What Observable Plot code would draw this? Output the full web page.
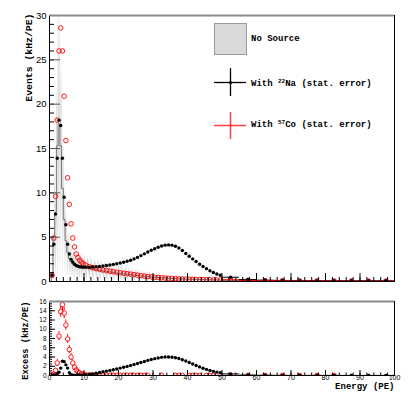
<!DOCTYPE html>
<html>
<head>
<meta charset="utf-8">
<script src="https://cdn.jsdelivr.net/npm/d3@7"></script>
<script src="https://cdn.jsdelivr.net/npm/@observablehq/plot@0.6"></script>
<style>
  body { margin: 0; background: #fff; }
  #root { position: relative; width: 415px; height: 395px; background: #fff; overflow: hidden; }
  #root svg { position: absolute; left: 0; }
  .leg { position: absolute; font-family: "Liberation Mono", monospace; font-weight: bold; font-size: 9px; line-height: 10px; white-space: nowrap; color: #000; }
  .leg sup { font-size: 6px; vertical-align: 3px; line-height: 0; }
</style>
</head>
<body>
<div id="root">
  <div style="position:absolute;left:214px;top:23px;width:31px;height:30px;background:#d9d9d9;border:1px solid #9a9a9a;"></div>
  <div class="leg" style="left:251px;top:34px;">No Source</div>
  <svg style="left:214px;top:68px;" width="33" height="28"><line x1="0" y1="14.5" x2="32" y2="14.5" stroke="#000" stroke-width="1.3"/><line x1="16.5" y1="0" x2="16.5" y2="28" stroke="#000" stroke-width="1.3"/><circle cx="16.5" cy="14.5" r="1.6" fill="#000"/></svg>
  <div class="leg" style="left:251px;top:79px;">With <sup>22</sup>Na (stat. error)</div>
  <svg style="left:214px;top:112px;" width="33" height="27"><line x1="0" y1="13.5" x2="32" y2="13.5" stroke="#ff4040" stroke-width="1.5"/><line x1="16.5" y1="0" x2="16.5" y2="27" stroke="#ff4040" stroke-width="1.5"/><circle cx="16.5" cy="13.5" r="1.4" fill="#ff4040"/></svg>
  <div class="leg" style="left:251px;top:120px;">With <sup>57</sup>Co (stat. error)</div>
</div>
<script>
// ---- data ----
const energy = [0.75,1.25,1.75,2.25,2.75,3.25,3.75,4.25,4.75,5.25,5.75,6.25,6.75,7.25,7.75,8.25,8.75,9.25,9.75,
  10.5,11.5,12.5,13.5,14.5,15.5,16.5,17.5,18.5,19.5,20.5,21.5,22.5,23.5,24.5,25.5,26.5,27.5,28.5,29.5,
  30.5,31.5,32.5,33.5,34.5,35.5,36.5,37.5,38.5,39.5,40.5,41.5,42.5,43.5,44.5,45.5,46.5,47.5,48.5,49.5,
  52.5,57.5,62.5,67.5,72.5,77.5,82.5,87.5,92.5,97.5];

const naTop = [0.7,4.2,7.6,13.9,18.2,17.6,13.9,9.5,6.4,4.2,3.1,2.5,2.2,1.95,1.8,1.72,1.66,1.63,1.62,
  1.62,1.62,1.63,1.66,1.7,1.74,1.8,1.86,1.93,2.0,2.08,2.17,2.28,2.4,2.55,2.72,2.92,3.12,3.32,3.52,
  3.7,3.86,4.0,4.1,4.13,4.1,3.98,3.78,3.5,3.16,2.85,2.55,2.25,1.95,1.7,1.45,1.22,1.02,0.85,0.7,
  0.48,0.22,0.15,0.12,0.1,0.1,0.09,0.08,0.08,0.08];

const coTop = [0.7,4.9,9.6,18.2,26.0,28.6,26.0,20.9,15.9,11.7,8.7,6.5,4.9,3.9,3.1,2.7,2.4,2.2,2.0,
  1.85,1.68,1.56,1.46,1.38,1.3,1.23,1.16,1.1,1.04,0.98,0.93,0.88,0.83,0.77,0.72,0.66,0.61,0.56,0.52,
  0.48,0.45,0.42,0.39,0.36,0.34,0.32,0.3,0.28,0.27,0.25,0.24,0.23,0.22,0.21,0.2,0.19,0.18,0.17,0.16,
  0.2,0.12,0.1,0.08,0.07,0.07,0.06,0.06,0.05,0.05];

const noSource = [0.7,5.0,7.8,15.3,17.8,15.3,10.5,7.0,4.6,3.3,2.6,2.2,2.0,1.85,1.75,1.7,1.65,1.6,1.55,
  1.5,1.44,1.38,1.32,1.26,1.2,1.13,1.07,1.01,0.96,0.91,0.86,0.82,0.77,0.72,0.68,0.63,0.59,0.55,0.51,
  0.48,0.45,0.42,0.39,0.36,0.34,0.32,0.3,0.28,0.27,0.25,0.24,0.23,0.22,0.21,0.2,0.19,0.18,0.17,0.16,
  0.12,0.1,0.09,0.08,0.07,0.07,0.06,0.06,0.05,0.05];

const naExcess = [0,0.05,0.1,0.3,0.7,1.6,3.1,3.0,2.3,1.6,0.6,0.15,0.05,0.02,0.0,0.02,0.05,0.08,0.1,
  0.15,0.25,0.35,0.5,0.65,0.8,0.95,1.1,1.25,1.42,1.6,1.78,1.97,2.17,2.38,2.6,2.82,3.04,3.26,3.46,
  3.64,3.8,3.92,3.99,4.0,3.95,3.84,3.66,3.42,3.12,2.8,2.48,2.16,1.86,1.58,1.32,1.1,0.9,0.74,0.6,
  0.35,0.1,0.05,0.03,0.02,0.02,0.02,0.02,0.02,0.02];

const coExcess = [0.1,0.3,1.1,2.7,8.5,13.8,15.3,13.5,10.9,7.9,5.6,4.0,2.7,1.8,1.2,0.8,0.55,0.35,0.25,
  0.15,0.12,0.1,0.1,0.08,0.08,0.07,0.06,0.06,0.05,0.05,0.04,0.04,0.04,0.03,0.03,0.03,0.02,0.02,-0.02,
  -0.03,-0.02,0.02,-0.02,-0.03,-0.02,0.02,0.02,0.01,-0.02,0.02,0.01,0.02,0.01,-0.02,0.02,0.01,0.02,-0.01,0.02,
  0.02,0.01,0.01,0.01,0.01,0.01,0.01,-0.01,-0.02,-0.01];

const coExcessErr = [0.1,0.3,0.5,0.8,1.0,1.2,1.3,1.2,1.1,1.0,0.9,0.8,0.7,0.6,0.5,0.45,0.4,0.35,0.3,
  0.2,0.2,0.15,0.15,0.15,0.12,0.12,0.12,0.1,0.1,0.1,0.1,0.1,0.1,0.1,0.1,0.1,0.1,0.1,0.1,
  0.1,0.1,0.1,0.1,0.1,0.1,0.1,0.1,0.1,0.1,0.1,0.1,0.1,0.1,0.1,0.1,0.1,0.1,0.1,0.1,
  0.05,0.05,0.05,0.05,0.05,0.05,0.05,0.05,0.05,0.05];

const xTickLabels = [0,10,20,30,40,50,60,70,80,90,100];
const yTickLabelsTop = [0,5,10,15,20,25,30];
const yTickLabelsBottom = [0,2,4,6,8,10,12,14,16];

// bin widths of the variable binning (0.5 PE below 10, 1 PE to 50, 5 PE above)
const binWidth = e => e < 10 ? 0.5 : e < 50 ? 1 : 5;

const rows = energy.map((e, i) => ({
  e, lo: e - binWidth(e) / 2, hi: e + binWidth(e) / 2,
  na: naTop[i], co: coTop[i], bg: noSource[i],
  naEx: naExcess[i], coEx: coExcess[i], coErr: coExcessErr[i]
}));
const wide = rows.filter(d => binWidth(d.e) >= 5);

const steps = [{x: rows[0].lo, y: 0}];
rows.forEach(d => { steps.push({x: d.lo, y: d.bg}); steps.push({x: d.hi, y: d.bg}); });
steps.push({x: rows[rows.length - 1].hi, y: 0});

const W = 415, ML = 49, MR = 21;
const FW = W - ML - MR;
const sans = "Liberation Sans, Arial, sans-serif";
const mono = "Liberation Mono, Courier New, monospace";
const RED = "#ff0000";
const RCIRC = 2.3;

const minor = (a, b, s) => d3.range(a, b + s / 2, s);

// ---- top panel ----
const TH = 290, TMT = 15, TMB = 9;
const TFH = TH - TMT - TMB;
const topPlot = Plot.plot({
  width: W, height: TH, marginLeft: ML, marginRight: MR, marginTop: TMT, marginBottom: TMB,
  style: {fontFamily: sans, fontSize: "10px", background: "transparent", overflow: "visible"},
  x: {domain: [0, 100], axis: null},
  y: {domain: [0, 30], axis: null},
  marks: [
    Plot.areaY(steps, {x: "x", y: "y", fill: "#d9d9d9", clip: true}),
    Plot.lineY(steps, {x: "x", y: "y", stroke: "#7a7a7a", strokeWidth: 1, clip: true}),
    Plot.ruleY(wide, {x1: "lo", x2: "hi", y: "na", stroke: "#000", strokeWidth: 1, clip: true}),
    Plot.ruleY(wide, {x1: "lo", x2: "hi", y: "co", stroke: RED, strokeWidth: 1, clip: true}),
    Plot.dot(rows, {x: "e", y: "co", r: RCIRC, stroke: RED, strokeWidth: 0.9, fill: "none", clip: true}),
    Plot.dot(rows, {x: "e", y: "na", r: 1.7, fill: "#000", stroke: "none", clip: true}),
    Plot.tickY(minor(0, 30, 1), {y: d => d, insetRight: FW - 5, stroke: "#000"}),
    Plot.tickY(yTickLabelsTop, {y: d => d, insetRight: FW - 11, stroke: "#555"}),
    Plot.tickX(minor(0, 100, 2), {x: d => d, insetTop: TFH - 4, stroke: "#000"}),
    Plot.tickX(xTickLabels, {x: d => d, insetTop: TFH - 8, stroke: "#000"}),
    Plot.text(yTickLabelsTop, {y: d => d, text: d => String(d), frameAnchor: "left", textAnchor: "end", dx: -3, fontSize: 9.5, fill: "#000"}),
    Plot.frame({stroke: "#000", strokeWidth: 1}),
    Plot.ruleY([30], {stroke: "#8a8a8a", strokeWidth: 2}),
    Plot.text(["Events (kHz/PE)"], {text: d => d, frameAnchor: "top-left", rotate: -90, textAnchor: "end", dx: -24, dy: -2, fontFamily: mono, fontWeight: "bold", fontSize: 9.8, fill: "#000"})
  ]
});
topPlot.style.top = "0px";
document.getElementById("root").appendChild(topPlot);

// ---- bottom panel ----
const BH = 105, BMT = 11, BMB = 20;
const BFH = BH - BMT - BMB;
const gap = RCIRC / (BFH / 16); // marker radius in data units, so error bars stop at the circle
const coPts = rows.filter(d => d.coEx >= 0);
const coBars = coPts.filter(d => d.coErr > gap);
const bottomPlot = Plot.plot({
  width: W, height: BH, marginLeft: ML, marginRight: MR, marginTop: BMT, marginBottom: BMB,
  style: {fontFamily: sans, fontSize: "8px", background: "transparent", overflow: "visible"},
  x: {domain: [0, 100], axis: null},
  y: {domain: [0, 16], axis: null},
  marks: [
    Plot.ruleY(wide.filter(d => d.naEx >= 0), {x1: "lo", x2: "hi", y: "naEx", stroke: "#000", clip: true}),
    Plot.ruleY(wide.filter(d => d.coEx >= 0), {x1: "lo", x2: "hi", y: "coEx", stroke: RED, clip: true}),
    Plot.ruleX(coBars, {x: "e", y1: d => d.coEx + gap, y2: d => d.coEx + d.coErr, stroke: RED, clip: true}),
    Plot.ruleX(coBars, {x: "e", y1: d => d.coEx - d.coErr, y2: d => d.coEx - gap, stroke: RED, clip: true}),
    Plot.dot(coPts, {x: "e", y: "coEx", r: RCIRC, stroke: RED, strokeWidth: 0.9, fill: "none", clip: true}),
    Plot.dot(rows.filter(d => d.naEx >= 0), {x: "e", y: "naEx", r: 1.7, fill: "#000", stroke: "none", clip: true}),
    Plot.tickY(minor(0, 16, 0.5), {y: d => d, insetRight: FW - 3, stroke: "#000"}),
    Plot.tickY(yTickLabelsBottom, {y: d => d, insetRight: FW - 6, stroke: "#000"}),
    Plot.tickX(minor(0, 100, 2), {x: d => d, insetTop: BFH - 2.5, stroke: "#000"}),
    Plot.tickX(xTickLabels, {x: d => d, insetTop: BFH - 5, stroke: "#000"}),
    Plot.text(yTickLabelsBottom, {y: d => d, text: d => String(d), frameAnchor: "left", textAnchor: "end", dx: -3, fontSize: 6.5, fill: "#000"}),
    Plot.text(xTickLabels, {x: d => d, text: d => String(d), frameAnchor: "bottom", dy: 4.5, fontSize: 7, fill: "#000"}),
    Plot.frame({stroke: "#000", strokeWidth: 1}),
    Plot.ruleY([16], {stroke: "#8a8a8a", strokeWidth: 2}),
    Plot.text(["Excess (kHz/PE)"], {text: d => d, frameAnchor: "top-left", rotate: -90, textAnchor: "end", dx: -28, dy: 0, fontFamily: mono, fontWeight: "bold", fontSize: 8.7, fill: "#000"}),
    Plot.text(["Energy (PE)"], {text: d => d, frameAnchor: "bottom-right", textAnchor: "end", dy: 13.5, fontFamily: mono, fontWeight: "bold", fontSize: 9, fill: "#000"})
  ]
});
bottomPlot.style.top = "290px";
document.getElementById("root").appendChild(bottomPlot);
</script>
</body>
</html>
